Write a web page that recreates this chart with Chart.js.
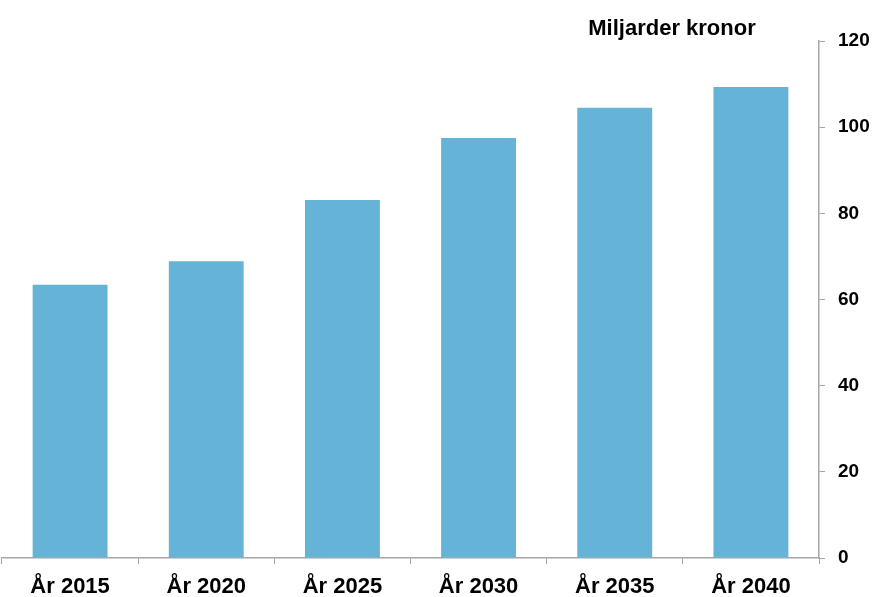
<!DOCTYPE html>
<html>
<head>
<meta charset="utf-8">
<script src="https://cdn.jsdelivr.net/npm/chart.js@4"></script>
<style>
  html, body { margin: 0; padding: 0; background: #fff; }
  #wrap { width: 875px; height: 597px; position: relative; }
</style>
</head>
<body>
<div id="wrap"><canvas id="mycanvas"></canvas></div>
<script>
var years = ['År 2015', 'År 2020', 'År 2025', 'År 2030', 'År 2035', 'År 2040'];
var values = [63.4, 68.9, 83.1, 97.5, 104.5, 109.3];
var yTicks = [0, 20, 40, 60, 80, 100, 120];
var unitLabel = 'Miljarder kronor';

// unit text above the bars, near the axis
var unitPlugin = {
  id: 'unitText',
  afterDraw: function(chart) {
    var c = chart.ctx;
    c.save();
    c.font = 'bold 22px "Liberation Sans", Arial, sans-serif';
    c.fillStyle = '#000';
    c.textAlign = 'center';
    c.textBaseline = 'middle';
    c.fillText(unitLabel, 672, 29);
    c.restore();
  }
};

var ctx = document.getElementById('mycanvas');
var barGraph = new Chart(ctx, {
  type: 'bar',
  data: {
    labels: years,
    datasets: [{
      data: values,
      backgroundColor: '#65B3D6',
      borderWidth: 0,
      barPercentage: 0.55,
      categoryPercentage: 1.0
    }]
  },
  options: {
    responsive: true,
    maintainAspectRatio: false,
    animation: false,
    layout: { padding: { top: 41, left: 2, right: 0, bottom: 0 } },
    plugins: { legend: { display: false }, tooltip: { enabled: false } },
    scales: {
      x: {
        grid: { display: true, drawOnChartArea: false, tickLength: 6, color: '#A6A6A6', offset: true },
        border: { color: '#A6A6A6', width: 1.5 },
        ticks: { color: '#000', padding: 10, font: { family: '"Liberation Sans", Arial, sans-serif', size: 22, weight: 'bold' } },
        afterFit: function(scale) { scale.height = 39; }
      },
      y: {
        position: 'right',
        min: 0,
        max: 120,
        afterBuildTicks: function(scale) {
          scale.ticks = yTicks.map(function(v) { return { value: v }; });
        },
        grid: { display: true, drawOnChartArea: false, tickLength: 6, color: '#A6A6A6' },
        border: { color: '#A6A6A6', width: 1.5 },
        ticks: { color: '#000', padding: 13, font: { family: '"Liberation Sans", Arial, sans-serif', size: 19, weight: 'bold', lineHeight: 1.0 } },
        afterFit: function(scale) { scale.width = 56; }
      }
    }
  },
  plugins: [unitPlugin]
});
</script>
</body>
</html>
